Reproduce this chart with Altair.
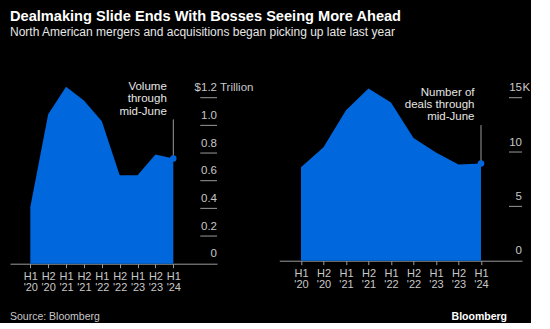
import json
import altair as alt
import pandas as pd

# ---------------- data ----------------
periods = ["H1 '20", "H2 '20", "H1 '21", "H2 '21", "H1 '22", "H2 '22", "H1 '23", "H2 '23", "H1 '24"]
volume = [0.41, 1.08, 1.28, 1.18, 1.03, 0.64, 0.64, 0.79, 0.76]       # $ trillion
deals = [8.6, 10.45, 13.85, 15.85, 14.55, 11.3, 9.95, 8.85, 8.95]       # thousands

vol_ticks = [0.2, 0.4, 0.6, 0.8, 1.0, 1.2]
vol_tick_values = [0, 0.2, 0.4, 0.6, 0.8, 1.0, 1.2]
vol_tick_labels = ["0", "0.2", "0.4", "0.6", "0.8", "1.0", "$1.2"]
deal_ticks = [5, 10, 15]
deal_tick_values = [0, 5, 10, 15]
deal_tick_labels = ["0", "5", "10", "15"]

vol_unit = "Trillion"
deal_unit = "K"
vol_note = "Volume\nthrough\nmid-June"
deal_note = "Number of\ndeals through\nmid-June"
vol_note_top = 1.043
deal_note_top = 12.48

title = "Dealmaking Slide Ends With Bosses Seeing More Ahead"
subtitle = "North American mergers and acquisitions began picking up late last year"
source = "Source: Bloomberg"
brand = "Bloomberg"

# ---------------- style ----------------
FONT = "Liberation Sans"
BLUE = "#0067DD"
LABEL = "#c8c8c8"
TICK = "#9a9a9a"

idx = list(range(len(periods)))
label_expr = f"split({json.dumps(periods)}[datum.value], ' ')"

XAXIS = alt.Axis(
    values=idx, tickCount=len(idx), labelExpr=label_expr, title=None, grid=False,
    labelAngle=0, labelAlign="center", labelBaseline="top",
    labelLineHeight=11, labelFontSize=11, labelFont=FONT, labelColor=LABEL,
    labelPadding=3, tickSize=4, tickColor=TICK, domainColor=TICK,
    labelOverlap=False, labelFlush=False)


def panel(values, ticks, tick_values, tick_labels, unit, note, note_top,
          width, height, xdom, ymax, tick_len, extra_text):
    df = pd.DataFrame({"i": idx, "v": values})
    last = pd.DataFrame({"i": [idx[-1]], "v": [values[-1]], "top": [note_top], "note": [note]})
    ticks_df = pd.DataFrame({"t": ticks})
    lab_df = pd.DataFrame({"t": tick_values, "lab": tick_labels})
    unit_df = pd.DataFrame({"t": [tick_values[-1]], "lab": [unit]})

    xs = alt.Scale(domain=xdom, nice=False, zero=False)
    ys = alt.Scale(domain=[0, ymax], nice=False, zero=True)
    X = alt.X("i:Q", scale=xs, axis=XAXIS)

    area = alt.Chart(df).mark_area(color=BLUE, opacity=1).encode(
        x=X, y=alt.Y("v:Q", scale=ys, axis=None))
    rule = alt.Chart(last).mark_rule(color=TICK, strokeWidth=1).encode(
        x=X, y=alt.Y("v:Q", scale=ys, axis=None), y2="top:Q")
    dot = alt.Chart(last).mark_circle(color=BLUE, size=42, opacity=1).encode(
        x=X, y=alt.Y("v:Q", scale=ys, axis=None))
    note_txt = alt.Chart(last).mark_text(
        align="right", baseline="alphabetic", dx=-6.5, dy=-29.5, font=FONT, fontSize=11.5,
        color="#e6e6e6", lineBreak="\n", lineHeight=12.3).encode(
        x=X, y=alt.Y("top:Q", scale=ys, axis=None), text="note:N")
    tick_rules = alt.Chart(ticks_df).mark_rule(color=TICK, strokeWidth=1).encode(
        y=alt.Y("t:Q", scale=ys, axis=None), x=alt.value(width - tick_len), x2=alt.value(width))
    tick_txt = alt.Chart(lab_df).mark_text(
        align="right", baseline="alphabetic", dy=-6.5, font=FONT, fontSize=11.5,
        color=LABEL).encode(
        y=alt.Y("t:Q", scale=ys, axis=None), x=alt.value(width), text="lab:N")
    unit_txt = alt.Chart(unit_df).mark_text(
        align="left", baseline="alphabetic", dy=-6.5, dx=3 if unit != "K" else 0.5,
        font=FONT, fontSize=11.5, color=LABEL).encode(
        y=alt.Y("t:Q", scale=ys, axis=None), x=alt.value(width), text="lab:N")
    layers = [area, rule, dot, note_txt, tick_rules, tick_txt, unit_txt] + extra_text
    return alt.layer(*layers).properties(width=width, height=height)


src_df = pd.DataFrame({"s": [source]})
brand_df = pd.DataFrame({"s": [brand]})
src_txt = alt.Chart(src_df).mark_text(
    align="left", baseline="middle", font=FONT, fontSize=10.5, color=LABEL).encode(
    x=alt.value(0), y=alt.value(266), text="s:N")
brand_txt = alt.Chart(brand_df).mark_text(
    align="right", baseline="middle", font=FONT, fontSize=10.5, fontWeight="bold",
    color="#ffffff").encode(
    x=alt.value(227.7), y=alt.value(266), text="s:N")

left = panel(volume, vol_ticks, vol_tick_values, vol_tick_labels, vol_unit, vol_note,
             vol_note_top, 207, 212.7, [-1.136, 10.445], 212.7 / 138.33, 16.7, [src_txt])
right = panel(deals, deal_ticks, deal_tick_values, deal_tick_labels, deal_unit, deal_note,
              deal_note_top, 242.7, 209.7, [-0.964, 9.822], 209.7 / 10.867, 13, [brand_txt])

chart = alt.hconcat(left, right, spacing=62.3, bounds="flush").properties(
    title=alt.TitleParams(
        text=title, subtitle=subtitle, anchor="start", font=FONT, fontSize=14.6,
        fontWeight="bold", color="#ffffff", subtitleFont=FONT, subtitleFontSize=12,
        subtitleColor="#e6e6e6", subtitlePadding=3, offset=13),
    padding={"left": 10, "top": 9, "right": 0, "bottom": 0},
    background="#000000",
).configure_view(stroke=None)

chart.save("out.html", embed_options={"renderer": "svg", "actions": False})
